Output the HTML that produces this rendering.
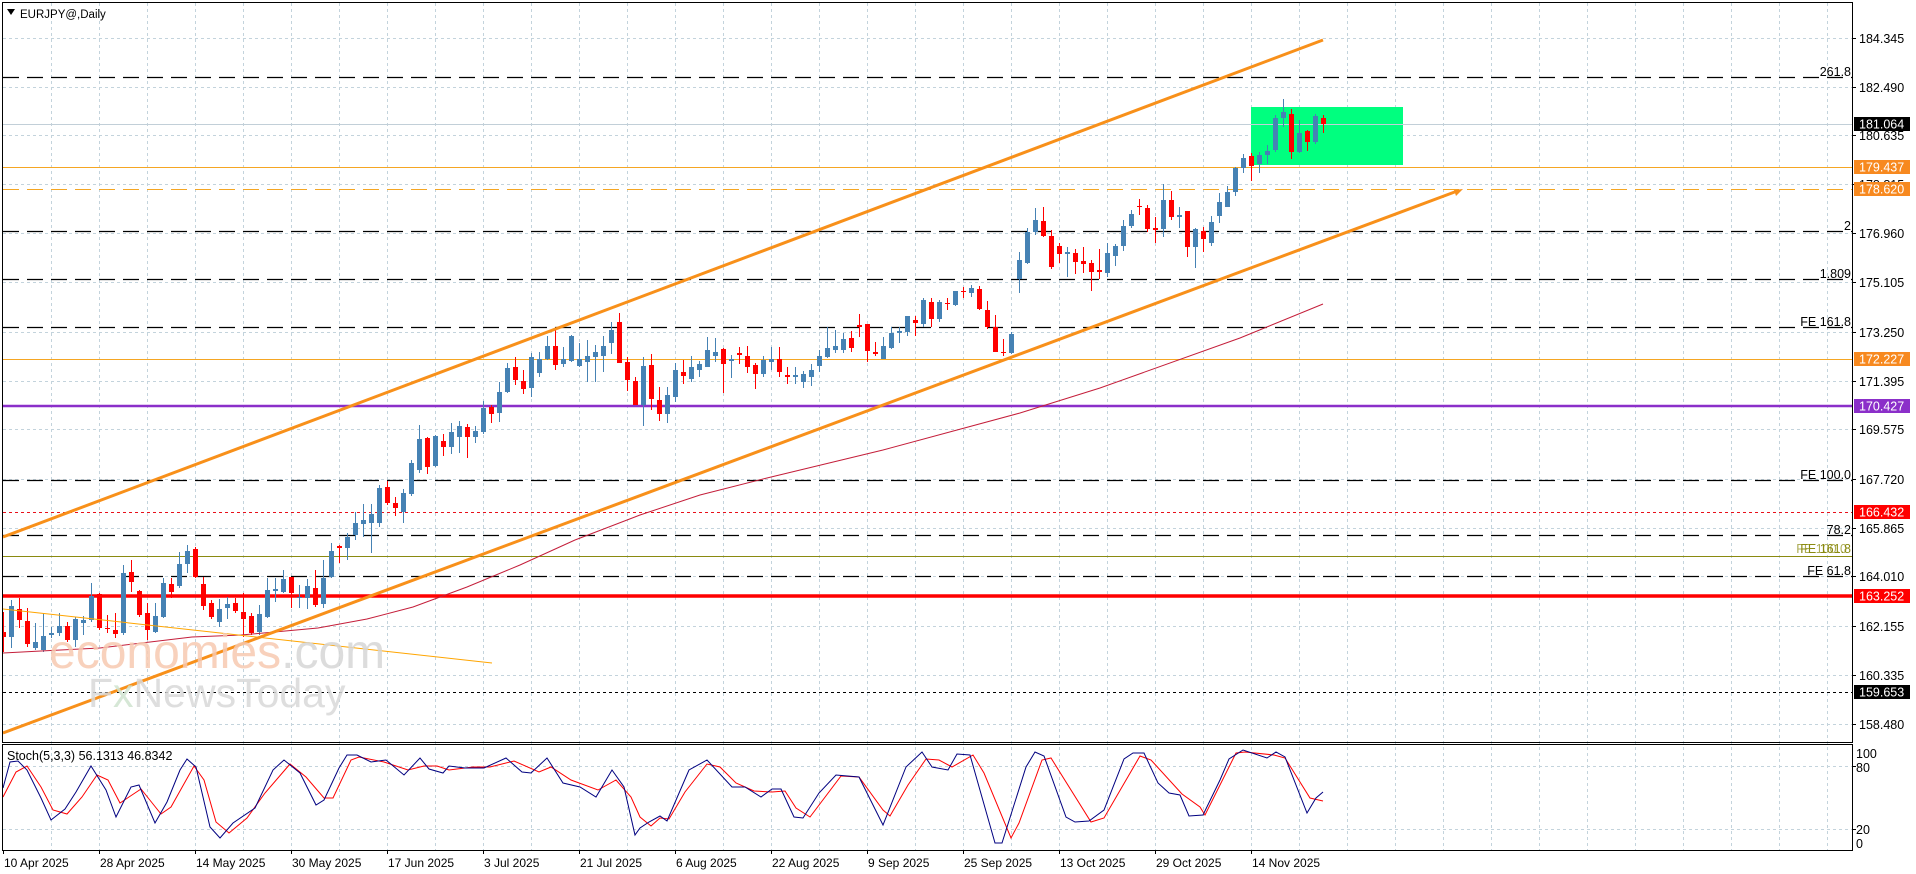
<!DOCTYPE html>
<html><head><meta charset="utf-8"><style>
html,body{margin:0;padding:0;background:#fff;width:1916px;height:874px;overflow:hidden}
svg{display:block}
text{font-family:"Liberation Sans",sans-serif}
</style></head><body>
<svg width="1916" height="874" viewBox="0 0 1916 874" xmlns="http://www.w3.org/2000/svg">
<defs><clipPath id="mc"><rect x="3" y="3" width="1849" height="739"/></clipPath>
<clipPath id="sc"><rect x="3" y="745" width="1849" height="105"/></clipPath></defs>
<rect width="1916" height="874" fill="#fff"/>
<!-- grid -->
<g stroke="#c3d3dc" stroke-width="1" stroke-dasharray="3 3" fill="none">
<path d="M51.5 3V850M99.5 3V850M147.5 3V850M195.5 3V850M243.5 3V850M291.5 3V850M339.5 3V850M387.5 3V850M435.5 3V850M483.5 3V850M531.5 3V850M579.5 3V850M627.5 3V850M675.5 3V850M723.5 3V850M771.5 3V850M819.5 3V850M867.5 3V850M915.5 3V850M963.5 3V850M1011.5 3V850M1059.5 3V850M1107.5 3V850M1155.5 3V850M1203.5 3V850M1251.5 3V850M1299.5 3V850M1347.5 3V850M1395.5 3V850M1443.5 3V850M1491.5 3V850M1539.5 3V850M1587.5 3V850M1635.5 3V850M1683.5 3V850M1731.5 3V850M1779.5 3V850M1827.5 3V850"/>
<path d="M3 38.5H1852M3 87.5H1852M3 135.5H1852M3 184.5H1852M3 233.5H1852M3 282.5H1852M3 332.5H1852M3 381.5H1852M3 429.5H1852M3 479.5H1852M3 528.5H1852M3 576.5H1852M3 626.5H1852M3 675.5H1852M3 724.5H1852M3 766.5H1852M3 829.5H1852"/>
</g>
<!-- green rectangle -->
<rect x="1251" y="107" width="152" height="58" fill="#00ff7f"/>
<g clip-path="url(#mc)">
<!-- horizontal levels -->
<path d="M3 124.5H1852" stroke="#c2cfd8" stroke-width="1"/>
<path d="M3 77.5H1852M3 231.5H1852M3 279.5H1852M3 327.5H1852M3 480.5H1852M3 535.5H1852M3 576.5H1852" stroke="#000" stroke-width="1.2" stroke-dasharray="16 8"/>
<path d="M3 167.5H1852" stroke="#f5a623" stroke-width="1"/>
<path d="M3 189.5H1852" stroke="#f5a623" stroke-width="1" stroke-dasharray="16 8"/>
<path d="M3 359.5H1852" stroke="#f5a623" stroke-width="1"/>
<path d="M3 406H1852" stroke="#8b2fc9" stroke-width="2.5"/>
<path d="M3 512.5H1852" stroke="#e8101a" stroke-width="1" stroke-dasharray="3 3"/>
<path d="M3 556.5H1852" stroke="#8a8a10" stroke-width="1"/>
<path d="M3 596H1852" stroke="#ff0000" stroke-width="3.5"/>
<path d="M3 692.5H1852" stroke="#000" stroke-width="1" stroke-dasharray="3 3"/>
<!-- candles -->
<path stroke="#4682b4" stroke-width="1" fill="none" d="M11.5 600V648 M35.5 623V650 M43.5 613V652 M51.5 627V638 M59.5 613V636 M75.5 617V647 M83.5 616V635 M91.5 583V622 M123.5 565V635 M155.5 603V633 M163.5 578V618 M179.5 552V588 M187.5 545V573 M219.5 599V627 M227.5 597V619 M259.5 605V635 M267.5 578V618 M275.5 578V602 M283.5 570V593 M299.5 585V608 M307.5 579V609 M323.5 560V608 M331.5 543V578 M347.5 533V560 M355.5 512V540 M363.5 504V537 M371.5 504V553 M379.5 485V527 M403.5 489V523 M411.5 460V496 M419.5 425V473 M435.5 435V467 M451.5 423V454 M459.5 421V453 M475.5 426V443 M483.5 401V434 M499.5 382V422 M507.5 363V393 M531.5 353V397 M539.5 352V377 M547.5 336V360 M563.5 347V367 M571.5 335V362 M579.5 343V367 M587.5 340V382 M595.5 345V382 M603.5 336V372 M611.5 322V354 M643.5 357V426 M667.5 387V423 M675.5 363V402 M691.5 356V382 M699.5 361V377 M707.5 337V367 M715.5 338V362 M731.5 355V378 M763.5 356V377 M771.5 347V370 M795.5 367V384 M803.5 371V388 M811.5 364V386 M819.5 350V372 M827.5 327V358 M835.5 330V353 M843.5 333V353 M883.5 337V359 M891.5 327V349 M899.5 327V343 M907.5 316V336 M923.5 298V327 M939.5 300V322 M955.5 291V306 M971.5 285V297 M1011.5 332V354 M1019.5 252V293 M1027.5 228V264 M1035.5 208V235 M1067.5 247V277 M1107.5 243V277 M1115.5 244V266 M1123.5 220V251 M1131.5 210V228 M1163.5 184V237 M1179.5 207V228 M1195.5 228V268 M1211.5 216V246 M1219.5 193V223 M1227.5 186V207 M1235.5 167V196 M1243.5 154V173 M1259.5 152V173 M1267.5 145V164 M1275.5 115V152 M1283.5 99V127 M1299.5 120V153 M1315.5 114V144"/>
<path fill="#4682b4" d="M9 606h5V637h-5z M33 642h5V648h-5z M41 636h5V650h-5z M49 633h5V635h-5z M57 626h5V633h-5z M73 619h5V640h-5z M81 620h5V623h-5z M89 596h5V620h-5z M121 573h5V633h-5z M153 616h5V632h-5z M161 583h5V617h-5z M177 564h5V586h-5z M185 551h5V564h-5z M217 609h5V622h-5z M225 604h5V608h-5z M257 614h5V632h-5z M265 590h5V617h-5z M273 589h5V591h-5z M281 579h5V592h-5z M297 597h5V598h-5z M305 586h5V598h-5z M321 578h5V604h-5z M329 551h5V577h-5z M345 537h5V548h-5z M353 523h5V535h-5z M361 520h5V524h-5z M369 514h5V523h-5z M377 488h5V523h-5z M401 493h5V512h-5z M409 463h5V494h-5z M417 439h5V470h-5z M433 436h5V466h-5z M449 432h5V447h-5z M457 426h5V437h-5z M473 431h5V437h-5z M481 408h5V432h-5z M497 392h5V413h-5z M505 368h5V392h-5z M529 357h5V388h-5z M537 359h5V373h-5z M545 346h5V359h-5z M561 359h5V364h-5z M569 336h5V361h-5z M577 359h5V366h-5z M585 356h5V362h-5z M593 352h5V357h-5z M601 346h5V356h-5z M609 330h5V343h-5z M641 366h5V405h-5z M665 395h5V414h-5z M673 370h5V397h-5z M689 367h5V379h-5z M697 364h5V370h-5z M705 350h5V367h-5z M713 352h5V356h-5z M729 359h5V361h-5z M761 360h5V374h-5z M769 359h5V362h-5z M793 375h5V377h-5z M801 374h5V382h-5z M809 370h5V377h-5z M817 356h5V366h-5z M825 348h5V357h-5z M833 346h5V350h-5z M841 339h5V350h-5z M881 346h5V359h-5z M889 333h5V348h-5z M897 331h5V333h-5z M905 316h5V332h-5z M921 300h5V324h-5z M937 302h5V319h-5z M953 291h5V305h-5z M969 288h5V293h-5z M1009 334h5V353h-5z M1017 260h5V279h-5z M1025 232h5V263h-5z M1033 220h5V232h-5z M1065 252h5V254h-5z M1105 253h5V273h-5z M1113 246h5V256h-5z M1121 226h5V246h-5z M1129 214h5V226h-5z M1161 200h5V229h-5z M1177 215h5V217h-5z M1193 229h5V247h-5z M1209 222h5V243h-5z M1217 202h5V216h-5z M1225 192h5V207h-5z M1233 168h5V192h-5z M1241 158h5V168h-5z M1257 155h5V164h-5z M1265 151h5V155h-5z M1273 118h5V150h-5z M1281 112h5V118h-5z M1297 133h5V152h-5z M1313 116h5V142h-5z"/>
<path stroke="#f00" stroke-width="1" fill="none" d="M3.5 612V652 M19.5 598V628 M27.5 608V647 M67.5 622V642 M99.5 593V630 M107.5 615V633 M115.5 613V638 M131.5 560V592 M139.5 590V617 M147.5 603V640 M171.5 578V598 M195.5 547V578 M203.5 577V610 M211.5 600V619 M235.5 598V613 M243.5 593V637 M251.5 613V635 M291.5 577V608 M315.5 570V607 M339.5 545V563 M387.5 481V505 M395.5 497V516 M427.5 437V474 M443.5 434V456 M467.5 424V458 M491.5 405V423 M515.5 357V385 M523.5 370V394 M555.5 330V370 M619.5 313V363 M627.5 357V391 M635.5 377V405 M651.5 354V410 M659.5 387V421 M683.5 360V384 M723.5 348V393 M739.5 347V364 M747.5 346V373 M755.5 363V389 M779.5 347V377 M787.5 367V384 M851.5 331V352 M859.5 314V337 M867.5 324V362 M875.5 342V356 M915.5 316V336 M931.5 298V327 M947.5 298V310 M963.5 287V298 M979.5 286V310 M987.5 301V329 M995.5 315V352 M1003.5 339V356 M1043.5 207V237 M1051.5 230V269 M1059.5 243V263 M1075.5 249V274 M1083.5 247V273 M1091.5 260V291 M1099.5 249V279 M1139.5 199V215 M1147.5 205V232 M1155.5 217V243 M1171.5 191V220 M1187.5 211V257 M1203.5 227V252 M1251.5 153V181 M1291.5 109V159 M1307.5 130V151 M1323.5 115V133"/>
<path fill="#f00" d="M1 632h5V637h-5z M17 609h5V620h-5z M25 621h5V644h-5z M65 626h5V640h-5z M97 594h5V628h-5z M105 628h5V629h-5z M113 630h5V634h-5z M129 572h5V582h-5z M137 591h5V615h-5z M145 613h5V630h-5z M169 584h5V592h-5z M193 549h5V577h-5z M201 584h5V606h-5z M209 603h5V617h-5z M233 603h5V611h-5z M241 612h5V619h-5z M249 616h5V633h-5z M289 577h5V593h-5z M313 588h5V605h-5z M337 546h5V548h-5z M385 487h5V503h-5z M393 503h5V508h-5z M425 438h5V467h-5z M441 441h5V447h-5z M465 427h5V437h-5z M489 407h5V414h-5z M513 367h5V380h-5z M521 381h5V389h-5z M553 346h5V365h-5z M617 322h5V363h-5z M625 362h5V380h-5z M633 381h5V405h-5z M649 365h5V399h-5z M657 400h5V414h-5z M681 372h5V376h-5z M721 349h5V364h-5z M737 353h5V355h-5z M745 356h5V367h-5z M753 365h5V374h-5z M777 359h5V372h-5z M785 375h5V377h-5z M849 338h5V348h-5z M857 325h5V327h-5z M865 324h5V351h-5z M873 352h5V354h-5z M913 320h5V323h-5z M929 302h5V319h-5z M945 303h5V304h-5z M961 291h5V292h-5z M977 289h5V309h-5z M985 310h5V327h-5z M993 327h5V352h-5z M1001 352h5V353h-5z M1041 221h5V236h-5z M1049 236h5V267h-5z M1057 246h5V254h-5z M1073 253h5V262h-5z M1081 261h5V264h-5z M1089 263h5V272h-5z M1097 270h5V272h-5z M1137 206h5V207h-5z M1145 208h5V229h-5z M1153 228h5V230h-5z M1169 200h5V217h-5z M1185 211h5V247h-5z M1201 231h5V239h-5z M1249 156h5V166h-5z M1289 114h5V152h-5z M1305 131h5V142h-5z M1321 118h5V124h-5z"/>
<!-- MA -->
<polyline fill="none" stroke="#c41e3a" stroke-width="1" points="3,653 41,651 100,648 192,637 241,635 318,628 367,619 413,607 467,587 520,565 575,540 640,515 700,495 767,478 883,450 1020,413 1100,388 1240,338 1323,304"/>
<!-- thin orange trendline -->
<line x1="3" y1="609" x2="492" y2="663" stroke="#ffa500" stroke-width="1"/>
<!-- channel -->
<line x1="3" y1="537" x2="1323" y2="40" stroke="#f8901a" stroke-width="3"/>
<line x1="3" y1="733" x2="1456" y2="191.5" stroke="#f8901a" stroke-width="3"/>
<polygon points="1463,189 1454,190 1456,196" fill="#f8901a"/>
<!-- watermark -->
<text x="49" y="668" font-size="48" fill="#f7c9b0" fill-opacity="0.85">economies<tspan fill="#d6d6d6">.com</tspan></text>
<text x="88" y="707" font-size="41" fill="#d8d8d8" fill-opacity="0.85">F<tspan fill="#cfe3cf">x</tspan>NewsToday</text>
</g>
<!-- fib labels -->
<g font-size="12.5" fill="#000" text-anchor="end">
<text x="1851" y="76">261.8</text>
<text x="1851" y="230">2</text>
<text x="1851" y="278">1.809</text>
<text x="1851" y="326">FE 161.8</text>
<text x="1851" y="479">FE 100.0</text>
<text x="1851" y="534">78.2</text>
<text x="1851" y="575">FE 61.8</text>
<text x="1851" y="553" fill="#8a8a10">FE 161.8</text>
<text x="1847" y="553" fill="#8a8a10" fill-opacity="0.7">FE 100.0</text>
</g>
<!-- header -->
<polygon points="7,9 15,9 11,15" fill="#000"/>
<text x="20" y="18" font-size="11.5" fill="#000">EURJPY@,Daily</text>
<!-- stochastic -->
<g clip-path="url(#sc)">
<polyline fill="none" stroke="#f00" stroke-width="1" points="3,797 16,772 27,766 41,787 53,810 67,814 82,797 97,775 108,780 120,803 141,789 161,814 171,807 194,766 204,780 216,822 229,833 247,818 265,793 290,764 306,777 324,798 333,798 351,760 359,757 384,762 408,770 424,766 437,766 449,770 473,767 490,767 514,761 539,772 551,767 571,780 598,790 616,780 631,797 640,817 651,826 660,818 669,819 685,792 707,764 720,767 736,783 754,791 772,792 785,791 796,808 810,817 841,776 859,777 883,810 890,816 908,785 926,759 939,760 952,767 973,755 984,773 1011,838 1019,823 1042,760 1051,758 1091,822 1104,818 1140,756 1151,760 1182,794 1200,807 1205,815 1236,753 1245,752 1274,755 1285,758 1310,798 1323,801"/>
<polyline fill="none" stroke="#000080" stroke-width="1" points="3,788 10,762 18,761 27,770 41,798 51,820 65,809 76,792 91,766 106,790 116,817 131,787 139,785 155,823 167,802 180,770 187,759 196,767 210,827 220,838 233,823 255,808 273,770 284,760 300,773 316,805 324,800 339,768 347,755 357,755 371,762 386,760 404,775 420,758 429,769 443,773 449,766 465,768 484,768 506,758 522,772 531,773 547,758 563,783 580,787 596,797 612,770 624,787 635,835 640,828 649,822 660,816 667,821 689,770 707,760 732,787 745,787 761,797 772,789 781,789 794,817 803,818 819,793 836,775 859,777 883,825 906,767 922,752 932,767 948,770 957,754 970,755 995,843 1002,843 1026,767 1035,752 1044,756 1066,817 1075,822 1089,821 1104,810 1124,759 1133,753 1144,753 1158,783 1169,793 1180,795 1189,816 1203,815 1220,780 1229,759 1243,750 1267,758 1276,752 1285,757 1307,813 1316,798 1323,792"/>
</g>
<text x="7" y="760" font-size="12.5" fill="#000">Stoch(5,3,3) 56.1313 46.8342</text>
<!-- frames -->
<rect x="2.5" y="2.5" width="1850" height="740" fill="none" stroke="#000" stroke-width="1"/>
<rect x="2.5" y="744.5" width="1850" height="106" fill="none" stroke="#000" stroke-width="1"/>
<!-- price axis ticks -->
<path stroke="#000" stroke-width="1" d="M1852 38.5h4M1852 87.5h4M1852 135.5h4M1852 184.5h4M1852 233.5h4M1852 282.5h4M1852 332.5h4M1852 381.5h4M1852 429.5h4M1852 479.5h4M1852 528.5h4M1852 576.5h4M1852 626.5h4M1852 675.5h4M1852 724.5h4M1852 766.5h4M1852 829.5h4"/>
<g font-size="12.5" fill="#000">
<text x="1859" y="43">184.345</text>
<text x="1859" y="92">182.490</text>
<text x="1859" y="140">180.635</text>
<text x="1859" y="189">178.815</text>
<text x="1859" y="238">176.960</text>
<text x="1859" y="287">175.105</text>
<text x="1859" y="337">173.250</text>
<text x="1859" y="386">171.395</text>
<text x="1859" y="434">169.575</text>
<text x="1859" y="484">167.720</text>
<text x="1859" y="533">165.865</text>
<text x="1859" y="581">164.010</text>
<text x="1859" y="631">162.155</text>
<text x="1859" y="680">160.335</text>
<text x="1859" y="729">158.480</text>
<text x="1856" y="758">100</text>
<text x="1856" y="772">80</text>
<text x="1856" y="834">20</text>
<text x="1856" y="848">0</text>
</g>
<!-- price boxes -->
<rect x="1854" y="117" width="56" height="14" fill="#000"/>
<rect x="1854" y="160" width="56" height="14" fill="#f7891f"/>
<rect x="1854" y="182" width="56" height="14" fill="#f7891f"/>
<rect x="1854" y="352" width="56" height="14" fill="#f7891f"/>
<rect x="1854" y="399" width="56" height="14" fill="#8b2fc9"/>
<rect x="1854" y="505" width="56" height="14" fill="#f00"/>
<rect x="1854" y="589" width="56" height="14" fill="#f00"/>
<rect x="1854" y="685" width="56" height="14" fill="#000"/>
<g font-size="12.5" fill="#fff">
<text x="1859" y="128.5">181.064</text>
<text x="1859" y="171.5">179.437</text>
<text x="1859" y="193.5">178.620</text>
<text x="1859" y="363.5">172.227</text>
<text x="1859" y="410.5">170.427</text>
<text x="1859" y="516.5">166.432</text>
<text x="1859" y="600.5">163.252</text>
<text x="1859" y="696.5">159.653</text>
</g>
<!-- date axis -->
<path stroke="#000" stroke-width="1" d="M3.5 850v4M99.5 850v4M195.5 850v4M291.5 850v4M387.5 850v4M483.5 850v4M579.5 850v4M675.5 850v4M771.5 850v4M867.5 850v4M963.5 850v4M1059.5 850v4M1155.5 850v4M1251.5 850v4"/>
<g font-size="12" fill="#000">
<text x="4" y="867">10 Apr 2025</text>
<text x="100" y="867">28 Apr 2025</text>
<text x="196" y="867">14 May 2025</text>
<text x="292" y="867">30 May 2025</text>
<text x="388" y="867">17 Jun 2025</text>
<text x="484" y="867">3 Jul 2025</text>
<text x="580" y="867">21 Jul 2025</text>
<text x="676" y="867">6 Aug 2025</text>
<text x="772" y="867">22 Aug 2025</text>
<text x="868" y="867">9 Sep 2025</text>
<text x="964" y="867">25 Sep 2025</text>
<text x="1060" y="867">13 Oct 2025</text>
<text x="1156" y="867">29 Oct 2025</text>
<text x="1252" y="867">14 Nov 2025</text>
</g>
</svg>
</body></html>
